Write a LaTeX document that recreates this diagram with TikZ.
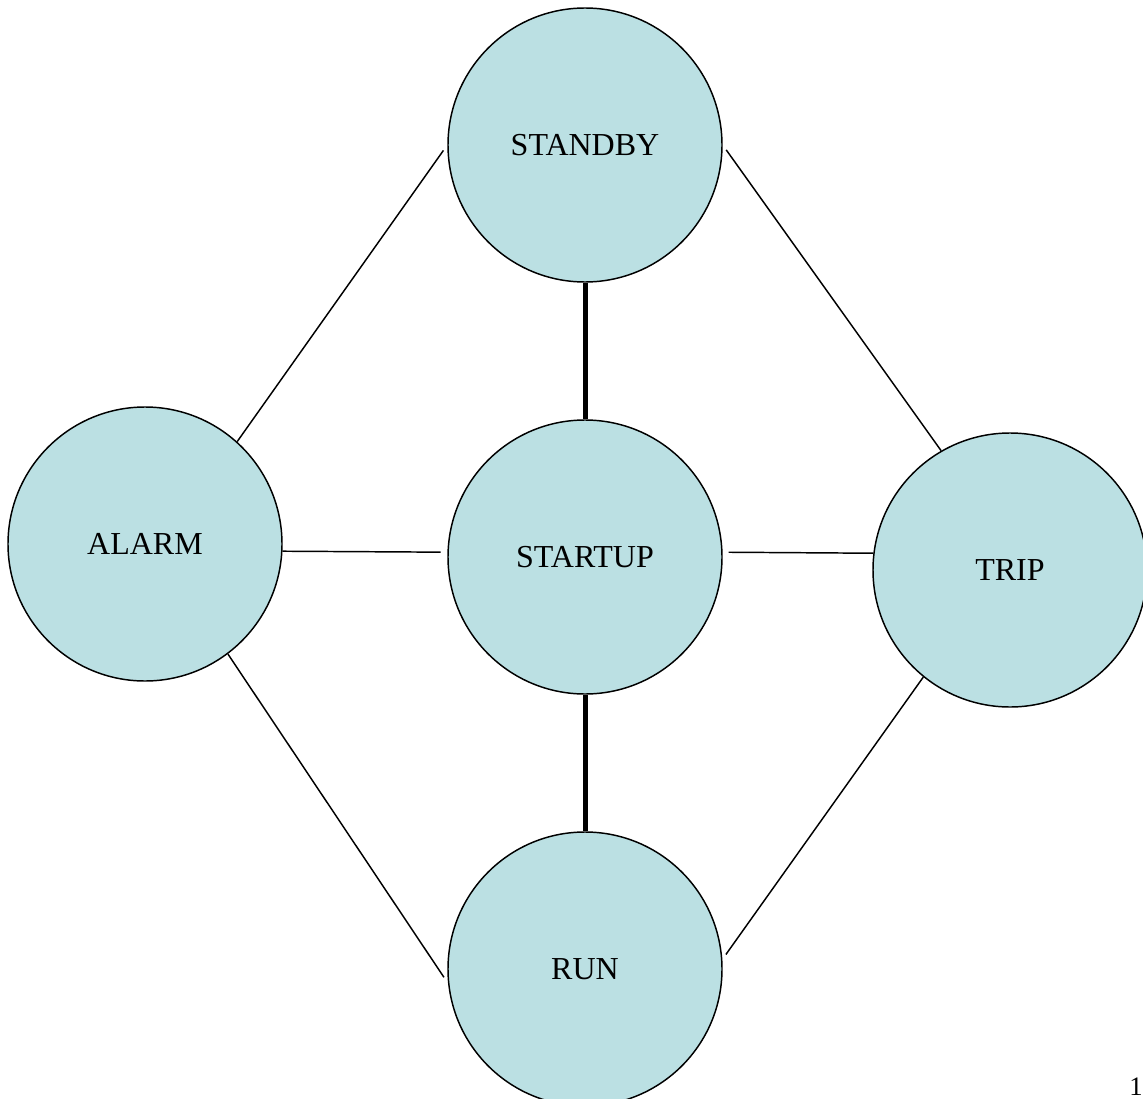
\documentclass[tikz,border=0pt]{standalone}
\usepackage{fontspec}
\setmainfont{Liberation Serif}
\usepackage{tikz}
\usetikzlibrary{shapes,arrows}
\definecolor{stateblue}{RGB}{187,224,227}

\begin{document}
\begin{tikzpicture}[x=0.75pt,y=0.75pt,yscale=-1,xscale=1,
  state/.style={circle,draw,fill=stateblue,line width=1.1pt,minimum size=205.5pt,inner sep=0pt,font=\fontsize{24}{28}\selectfont},
  thin link/.style={line width=1.1pt},
  thick link/.style={line width=3.75pt}]

\useasboundingbox (0,0) rectangle (1143,1099);

% States
\node[state] (standby) at (585,145) {STANDBY};
\node[state] (startup) at (585,557) {STARTUP};
\node[state] (alarm) at (145,544) {ALARM};
\node[state] (trip) at (1010,570) {TRIP};
\node[state] (run) at (585,969) {RUN};

% Thin Lines
\draw[thin link,shorten >=5pt] (alarm.48) -- (standby.180);
\draw[thin link,shorten >=5pt] (alarm.-3) -- (startup.178);
\draw[thin link,shorten >=5.5pt] (alarm.-53) -- (run.186);
\draw[thin link,shorten <=4.5pt] (standby.0) -- (trip.120);
\draw[thin link,shorten <=4.5pt] (startup.2) -- (trip.173);
\draw[thin link,shorten <=4.5pt] (run.4) -- (trip.231);

% Thick Lines
\draw[thick link] (standby.south) -- (startup.north);
\draw[thick link] (startup.south) -- (run.north);

% Text Node
\node[anchor=base west,inner sep=0pt,font=\fontsize{20}{24}\selectfont] (pagenum) at (1129,1095) {1};

\end{tikzpicture}
\end{document}
